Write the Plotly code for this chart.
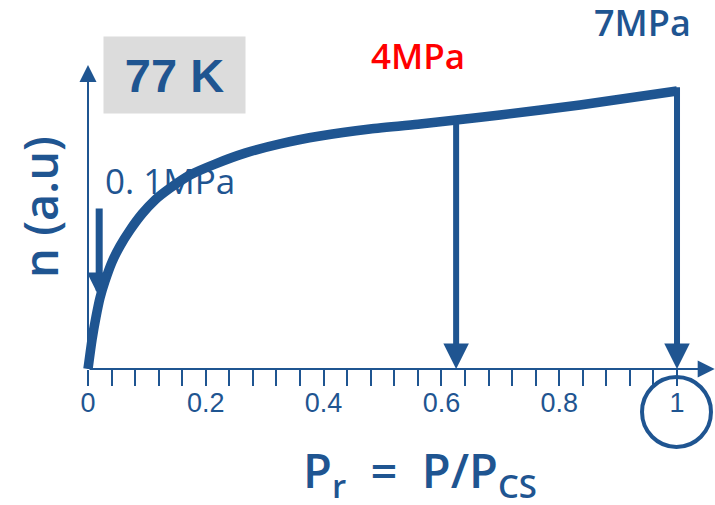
import plotly.graph_objects as go

# ---- data ----
pr = [0.0, 0.0068, 0.0136, 0.0204, 0.0289, 0.0407, 0.0543, 0.0713, 0.0917,
      0.1138, 0.1392, 0.1732, 0.2156, 0.2666, 0.3260, 0.3939, 0.4788,
      0.5637, 0.6248, 0.6995, 0.8353, 1.0]
n_au = [0.0, 0.104, 0.186, 0.254, 0.314, 0.382, 0.439, 0.496, 0.554,
        0.604, 0.646, 0.693, 0.732, 0.771, 0.804, 0.832, 0.857,
        0.875, 0.889, 0.907, 0.943, 0.993]

tick_vals = [round(i * 0.04, 2) for i in range(26)]
tick_text = [("0" if v == 0 else ("1" if v == 1 else f"{v:g}")) if round(v / 0.2, 6) % 1 == 0 else "" for v in tick_vals]

arrow_x = [0.019, 0.625, 1.0]
arrow_top = [0.579, 0.904, 1.012]
arrow_tip = [0.257, 0.0, 0.0]
arrow_labels = ["0. 1MPa", "4MPa", "7MPa"]

BLUE = "rgb(31,85,145)"
RED = "#FF0000"
W, H = 715, 505
X_RANGE = [-0.1494, 1.0645]
Y_RANGE = [0.0, 1.3179]

fig = go.Figure()

# 0.1MPa label drawn first so the curve passes over it
fig.add_trace(go.Scatter(
    x=[0.0289], y=[0.657], mode="text", text=[arrow_labels[0]],
    textposition="middle right",
    textfont=dict(family="Open Sans", size=35, color=BLUE),
    hoverinfo="skip", showlegend=False, cliponaxis=False))

fig.add_trace(go.Scatter(
    x=pr, y=n_au, mode="lines", line=dict(color=BLUE, width=9.5, shape="spline", smoothing=0.5),
    hoverinfo="skip", showlegend=False))

annotations = []
# axes as arrows
annotations.append(dict(x=0, y=1.0857, ax=0, ay=0, xref="x", yref="y", axref="x", ayref="y",
                        text="", showarrow=True, arrowhead=2, arrowwidth=2, arrowsize=1.7,
                        arrowcolor=BLUE, standoff=0))
annotations.append(dict(x=1.064, y=0, ax=0, ay=0, xref="x", yref="y", axref="x", ayref="y",
                        text="", showarrow=True, arrowhead=2, arrowwidth=2, arrowsize=1.7,
                        arrowcolor=BLUE, standoff=0))
# pressure arrows
widths = [7, 6, 6]
sizes = [0.7, 0.85, 0.85]
for xv, top, tip, wv, sv in zip(arrow_x, arrow_top, arrow_tip, widths, sizes):
    annotations.append(dict(x=xv, y=tip, ax=xv, ay=top, xref="x", yref="y", axref="x", ayref="y",
                            text="", showarrow=True, arrowhead=2, arrowwidth=wv, arrowsize=sv,
                            arrowcolor=BLUE, standoff=0))

# labels
annotations.append(dict(x=0.560, y=1.121, xref="x", yref="y", text=arrow_labels[1], showarrow=False,
                        font=dict(family="Open Sans", size=35, color=RED, weight=600)))
annotations.append(dict(x=0.942, y=1.239, xref="x", yref="y", text=arrow_labels[2], showarrow=False,
                        font=dict(family="Open Sans", size=36, color=BLUE, weight=600)))
annotations.append(dict(x=0.1469, y=1.05, xref="x", yref="y", text="77 K", showarrow=False,
                        width=141, height=76, borderpad=0, bgcolor="#DCDCDC",
                        font=dict(family="Liberation Sans", size=47, color=BLUE, weight=700)))
annotations.append(dict(x=0.564, y=-0.282, xref="x", yref="paper",
                        text="P<sub>r</sub>&nbsp; =&nbsp; P/P<sub>CS</sub>",
                        showarrow=False, yanchor="middle",
                        font=dict(family="Open Sans", size=47, color=BLUE, weight=600)))
annotations.append(dict(x=-0.0815, y=0.579, xref="x", yref="y", text="n (a.u)", showarrow=False,
                        textangle=-90, font=dict(family="Open Sans", size=47, color=BLUE, weight=600)))

shapes = [dict(type="circle", xref="x", yref="paper", x0=0.9406, x1=1.0577, y0=-0.2114, y1=-0.0217,
               line=dict(color=BLUE, width=4))]

fig.update_layout(
    width=W, height=H, margin=dict(l=0, r=0, t=0, b=136, autoexpand=False),
    paper_bgcolor="white", plot_bgcolor="white",
    xaxis=dict(range=X_RANGE, showgrid=False, zeroline=False, showline=False,
               tickmode="array", tickvals=tick_vals, ticktext=tick_text,
               ticks="outside", ticklen=16, tickwidth=2, tickcolor=BLUE,
               ticklabelstandoff=-6,
               tickfont=dict(family="Liberation Sans", size=27, color=BLUE),
               fixedrange=True),
    yaxis=dict(range=Y_RANGE, visible=False, fixedrange=True),
    annotations=annotations, shapes=shapes, showlegend=False,
)

fig.write_html("out.html", config={"displayModeBar": False},
               post_script="document.body.style.margin='0';")
